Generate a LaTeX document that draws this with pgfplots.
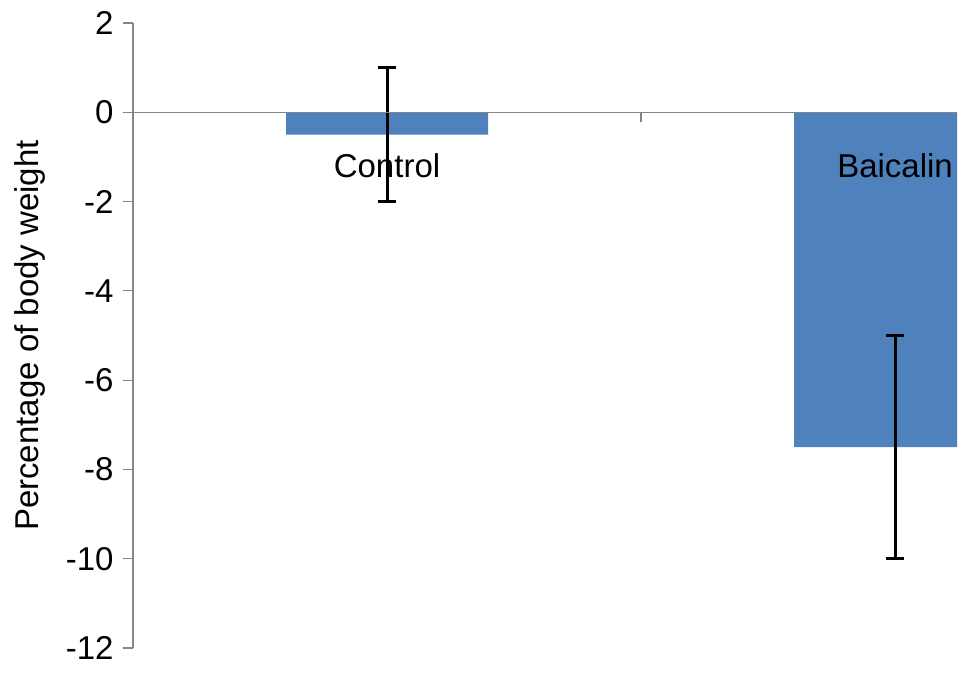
\documentclass[border=0pt]{standalone}
\usepackage{pgfplots}
\pgfplotsset{compat=1.18}
\usepackage{fontspec}
\setmainfont{Liberation Sans}
\definecolor{barblue}{RGB}{79,129,189}
\definecolor{axgray}{RGB}{134,134,134}
\begin{document}
\begin{tikzpicture}
\begin{axis}[
  name=ax,
  scale only axis,
  width=824pt, height=625pt,
  xmin=-0.5, xmax=1.122,
  ymin=-12, ymax=2,
  axis x line=middle,
  axis y line=left,
  axis line style={-, axgray, line width=1.2pt},
  axis on top,
  ytick={-12,-10,...,2},
  xtick={0.5},
  xticklabels={},
  x tick style={axgray, line width=1.2pt},
  extra x ticks={0,1},
  extra x tick labels={Control,Baicalin},
  extra x tick style={major tick length=0pt, xticklabel style={yshift=-38pt}},
  ytick style={axgray, line width=1.2pt},
  major tick length=10pt,
  tick align=outside,
  tick label style={font=\fontsize{33}{39}\selectfont, text=black},
  yticklabel style={xshift=-6pt},
  /pgf/number format/assume math mode=true,
  ylabel={Percentage of body weight},
  ylabel style={font=\fontsize{33}{39}\selectfont, yshift=14pt},
  clip=true,
]
\addplot[ybar, bar width=202pt, fill=barblue, draw=none,
  error bars/.cd, y dir=both, y explicit,
  error bar style={line width=3pt, black},
  error mark options={rotate=90, mark size=9pt, line width=3pt, black}]
  coordinates {(0,-0.5) +- (0,1.5) (1,-7.5) +- (0,2.5)};
\end{axis}
\path ([shift={(-133pt,-27pt)}]ax.south west) rectangle ([shift={(13pt,23pt)}]ax.north east);
\end{tikzpicture}
\end{document}
